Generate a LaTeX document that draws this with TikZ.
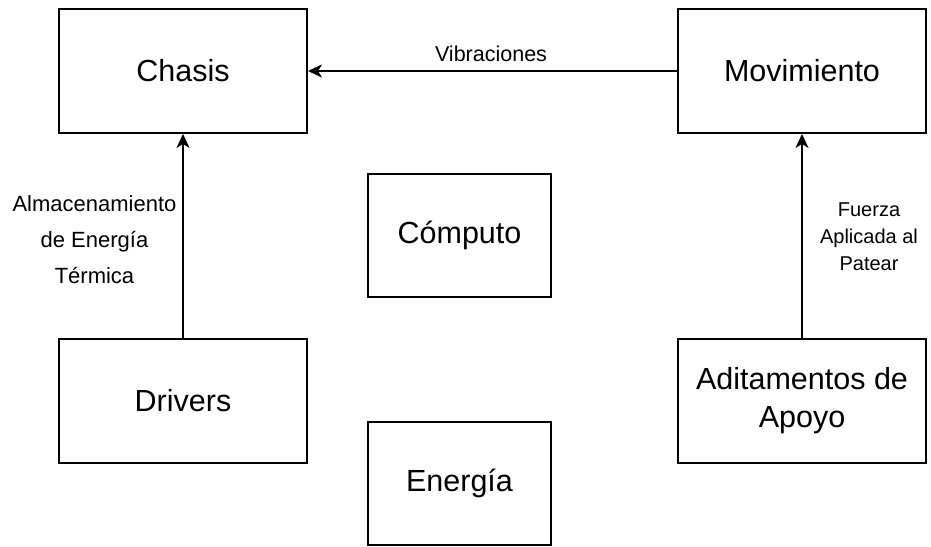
\documentclass[tikz,border=0pt]{standalone}
\usepackage{fontspec}
\setmainfont{Liberation Sans}
\usetikzlibrary{arrows.meta, positioning}
\tikzset{
    block/.style={draw, line width=1.9pt, minimum width=248pt, minimum height=124pt,
        align=center, inner sep=0pt, font=\fontsize{30.5}{38}\selectfont},
    smallblock/.style={block, minimum width=183pt, minimum height=123pt},
    flow/.style={-{Stealth[length=14pt, width=13pt, inset=4pt]}, line width=1.9pt},
    edgelabel/.style={align=center, inner sep=0pt}
}

\begin{document}
\begin{tikzpicture}[x=1pt, y=-1pt]
    \useasboundingbox (0,0) rectangle (931,546);
    % Subsystem blocks
    \node[block] (chasis) at (183,71) {Chasis};
    \node[block] (movimiento) at (802,71) {Movimiento};
    \node[smallblock] (computo) at (459.5,235.5) {Cómputo};
    \node[block] (drivers) at (183,401) {Drivers};
    \node[block] (aditamentos) at (802,401) {Aditamentos de\\Apoyo};
    \node[smallblock] (energia) at (459.5,483.5) {Energía};
    % Interactions
    \draw[flow] (movimiento) -- (chasis);
    \draw[flow] (drivers) -- (chasis);
    \draw[flow] (aditamentos) -- (movimiento);
    % Labels on the arrows
    \node[edgelabel, anchor=base, font=\fontsize{21.5}{26}\selectfont] (vibr) at (491,61) {Vibraciones};
    \node[edgelabel, anchor=north, font=\fontsize{22}{36}\selectfont] (almac) at (94.5,195)
        {Almacenamiento\\de Energía\\Térmica};
    \node[edgelabel, anchor=north, font=\fontsize{20}{27}\selectfont] (fuerza) at (869,203)
        {Fuerza\\Aplicada al\\Patear};
\end{tikzpicture}
\end{document}
